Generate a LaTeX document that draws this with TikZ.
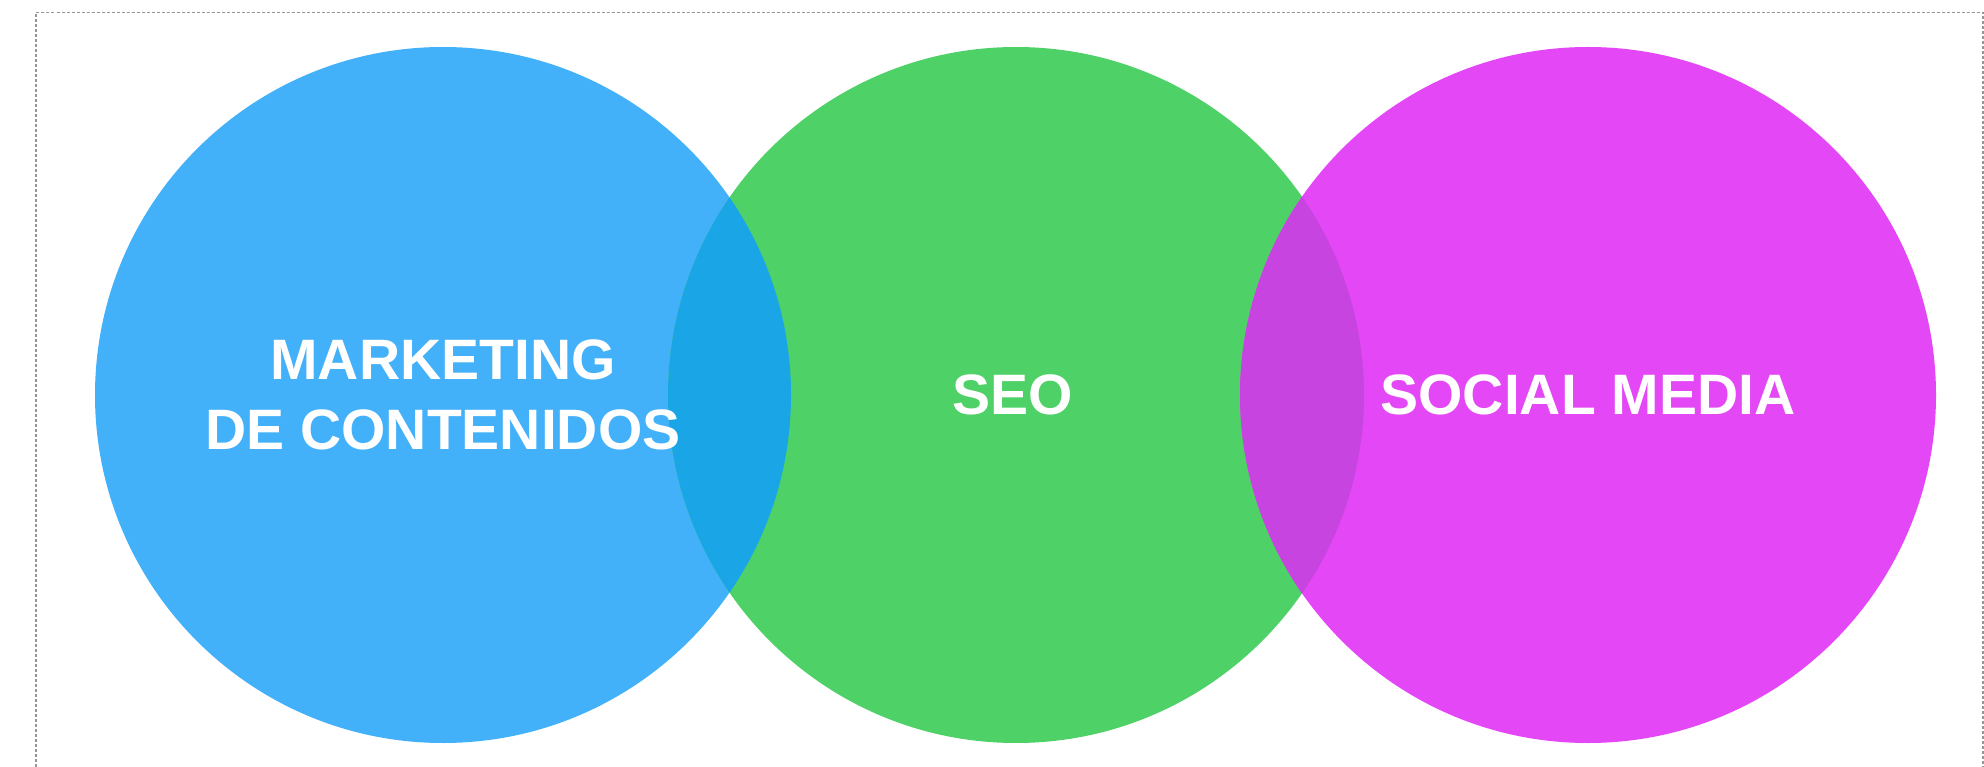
\documentclass[tikz,border=0pt]{standalone}
\usepackage{fontspec}
\setmainfont{Liberation Sans}
\usetikzlibrary{positioning}
\definecolor{mktblue}{RGB}{67,176,250}
\definecolor{seogreen}{RGB}{78,209,102}
\definecolor{socialpink}{RGB}{228,71,245}
\definecolor{mktseo}{RGB}{26,166,230}
\definecolor{seosocial}{RGB}{199,68,224}
\definecolor{framegray}{RGB}{150,150,150}

\begin{document}
\begin{tikzpicture}[x=1pt, y=-1pt,
  venn/.style={circle, minimum size=696pt, inner sep=0pt},
  txt/.style={text=white, font=\fontsize{57}{70.5}\selectfont\bfseries, align=center}]
\useasboundingbox (0,0) rectangle (1984,767);
% Frame
\draw[framegray, dash pattern=on 3pt off 2pt, line width=1.5pt] (36,767) -- (36,12.5) -- (1983,12.5) -- (1983,767);

% Circles
\node[venn, fill=mktblue] (mkt) at (443,395) {};
\node[venn, fill=seogreen] (seo) at (1016,395) {};
\node[venn, fill=socialpink] (social) at (1588,395) {};

% Overlaps
\begin{scope}
  \clip (mkt.center) circle (348pt);
  \fill[mktseo] (seo.center) circle (348pt);
\end{scope}
\begin{scope}
  \clip (social.center) circle (348pt);
  \fill[seosocial] (seo.center) circle (348pt);
\end{scope}

% Labels
\node[txt] (mktlabel) at (mkt) {MARKETING\\DE CONTENIDOS};
\node[txt] (seolabel) at (1013,395) {SEO};
\node[txt] (sociallabel) at (social) {SOCIAL MEDIA};
\end{tikzpicture}
\end{document}
